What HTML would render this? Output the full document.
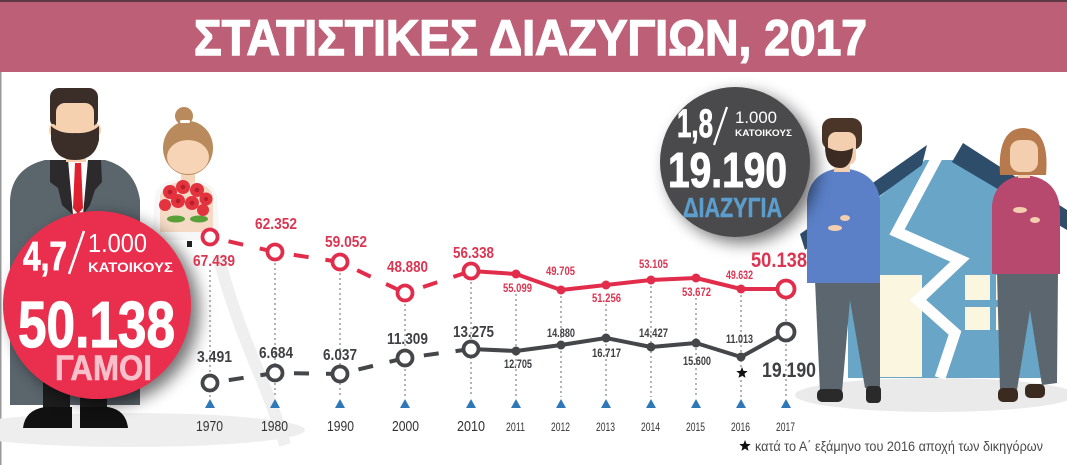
<!DOCTYPE html>
<html><head><meta charset="utf-8">
<style>
html,body{margin:0;padding:0;background:#fff;}
svg{display:block;}
</style></head>
<body>
<svg width="1067" height="465" viewBox="0 0 1067 465" xmlns="http://www.w3.org/2000/svg" font-family="'Liberation Sans','DejaVu Sans',sans-serif">
<defs>
<filter id="sh" x="-40%" y="-40%" width="180%" height="180%"><feGaussianBlur stdDeviation="8"/></filter>
</defs>
<rect width="1067" height="465" fill="#fff"/>

<!-- Title -->
<rect x="0" y="0" width="1067" height="72" fill="#bd5f77"/>
<rect x="0" y="0" width="1067" height="2" fill="#5e3a47"/>
<text x="194" y="55" font-size="50" font-weight="bold" fill="#fff" stroke="#fff" stroke-width="1.4" textLength="673" lengthAdjust="spacingAndGlyphs">ΣΤΑΤΙΣΤΙΚΕΣ ΔΙΑΖΥΓΙΩΝ, 2017</text>
<rect x="0" y="72" width="1.5" height="393" fill="#999"/>

<!-- Left ground & veil -->
<ellipse cx="130" cy="430" rx="175" ry="17" fill="#eeeeee"/>
<path d="M218,255 Q232,310 262,380 Q278,420 285,445" stroke="#efefef" stroke-width="12" fill="none"/>

<!-- Groom -->
<path d="M10,405 L10,200 Q12,168 45,160 L105,160 Q135,168 140,200 L140,405 Z" fill="#5a656c"/>
<polygon points="68,160 88,160 85,215 72,215" fill="#fff"/>
<polygon points="75,163 81,163 83,208 78,214 73,208" fill="#e0212f"/>
<polygon points="50,160 68,160 73,215 62,205 58,188 50,182" fill="#2d2a2d"/>
<polygon points="88,160 101,160 102,182 95,190 90,205 83,215" fill="#2d2a2d"/>
<rect x="66" y="145" width="20" height="17" fill="#f5cfae"/>
<rect x="50" y="88" width="48" height="40" rx="9" fill="#3b2e29"/>
<ellipse cx="53" cy="130" rx="4" ry="6" fill="#f5cfae"/>
<ellipse cx="97" cy="130" rx="4" ry="6" fill="#f5cfae"/>
<rect x="56" y="103" width="38" height="45" rx="9" fill="#f6d1b0"/>
<path d="M51,126 L51,140 Q55,160 75,160 Q95,160 99,140 L99,126 Q90,134 75,133 Q60,134 51,126 Z" fill="#3b2e29"/>
<rect x="43" y="370" width="27" height="42" fill="#1d1d1d"/>
<rect x="80" y="370" width="27" height="42" fill="#1d1d1d"/>
<path d="M23,428 Q25,410 45,407 L72,407 L72,428 Z" fill="#111"/>
<path d="M80,407 L108,407 Q126,410 128,428 L80,428 Z" fill="#111"/>

<!-- Bride -->
<path d="M152,240 L155,195 Q160,180 185,178 Q212,180 217,195 L220,240 Z" fill="#f7f7f7"/>
<path d="M160,232 L160,196 Q163,183 185,181 Q210,183 213,196 L213,232 Z" fill="#f5dac5"/>
<rect x="181" y="166" width="14" height="16" fill="#f5d4b8"/>
<ellipse cx="188" cy="148" rx="25" ry="27" fill="#b98a5c"/>
<circle cx="184" cy="116" r="9" fill="#b98a5c"/>
<rect x="180" y="120" width="10" height="3" rx="1.5" fill="#fff"/>
<ellipse cx="188" cy="157" rx="21" ry="17" fill="#f7d4b6"/>
<g fill="#e2333f">
<circle cx="170" cy="192" r="7"/><circle cx="183" cy="187" r="7"/><circle cx="197" cy="190" r="7"/>
<circle cx="206" cy="199" r="6.5"/><circle cx="178" cy="201" r="7"/><circle cx="192" cy="203" r="7"/>
<circle cx="165" cy="205" r="6"/><circle cx="203" cy="210" r="6"/>
</g>
<g fill="#b81e2a">
<circle cx="170" cy="192" r="2.3"/><circle cx="183" cy="187" r="2.3"/><circle cx="197" cy="190" r="2.3"/>
<circle cx="178" cy="201" r="2.3"/><circle cx="192" cy="203" r="2.3"/><circle cx="206" cy="199" r="2"/>
</g>
<ellipse cx="176" cy="219" rx="9" ry="3.5" fill="#5aa03a"/>
<ellipse cx="199" cy="219" rx="9" ry="3.5" fill="#5aa03a"/>
<rect x="187" y="241" width="5" height="6" fill="#222"/>

<!-- Red big circle -->
<circle cx="105" cy="311" r="94" fill="#000" opacity="0.55" filter="url(#sh)"/>
<circle cx="97" cy="305" r="94" fill="#e92f4d"/>
<text x="23" y="270" font-size="41" font-weight="bold" fill="#fff" stroke="#fff" stroke-width="0.8" textLength="44" lengthAdjust="spacingAndGlyphs">4,7</text>
<line x1="84" y1="231" x2="69" y2="274" stroke="#fff" stroke-width="2.5"/>
<text x="88" y="252" font-size="26" fill="#fff" textLength="59" lengthAdjust="spacingAndGlyphs">1.000</text>
<text x="88" y="272" font-size="14" font-weight="bold" fill="#fff" textLength="85" lengthAdjust="spacingAndGlyphs">ΚΑΤΟΙΚΟΥΣ</text>
<text x="18" y="347" font-size="65" font-weight="bold" fill="#fff" stroke="#fff" stroke-width="1.2" textLength="157" lengthAdjust="spacingAndGlyphs">50.138</text>
<text x="55" y="380" font-size="35" font-weight="bold" fill="#f8c0ca" stroke="#f8c0ca" stroke-width="0.6" textLength="97" lengthAdjust="spacingAndGlyphs">ΓΑΜΟΙ</text>

<!-- Right scene -->
<ellipse cx="935" cy="395" rx="140" ry="17" fill="#eaeaea"/>
<polygon points="848,222 925,160 955,160 1050,222 1050,378 848,378" fill="#68a5c6"/>
<rect x="880" y="275" width="42" height="102" fill="#fbf6df"/>
<rect x="965" y="275" width="25" height="25" fill="#fbf6df"/>
<rect x="965" y="307" width="25" height="23" fill="#fbf6df"/>
<rect x="996" y="275" width="12" height="25" fill="#fbf6df"/>
<rect x="996" y="307" width="12" height="23" fill="#fbf6df"/>
<polygon points="800,234 927,145 922,165 805,250" fill="#2d4d6b"/>
<polygon points="963,143 1067,210 1067,230 952,162" fill="#2d4d6b"/>
<polyline points="942,148 897,232 960,260 918,300 955,333 940,378" stroke="#fff" stroke-width="11" fill="none" stroke-linejoin="miter" stroke-miterlimit="3"/>

<!-- Man -->
<path d="M815,280 L880,280 L880,388 L865,388 L850,300 L842,392 L820,392 Z" fill="#5b666e"/>
<rect x="817" y="389" width="26" height="13" rx="5" fill="#2a2a2a"/>
<rect x="866" y="386" width="15" height="17" rx="4" fill="#2a2a2a"/>
<path d="M807,283 L807,200 Q810,172 840,168 Q876,170 880,200 L880,283 Z" fill="#5b80c8"/>
<ellipse cx="835" cy="228" rx="7" ry="3" fill="#f3cfb0"/>
<ellipse cx="845" cy="218" rx="5" ry="3" fill="#f3cfb0"/>
<rect x="834" y="158" width="16" height="14" fill="#f3cfb0"/>
<rect x="822" y="118" width="40" height="32" rx="10" fill="#4a3528"/>
<rect x="828" y="132" width="28" height="33" rx="8" fill="#f3cfb0"/>
<path d="M825,146 Q825,168 840,168 Q852,168 853,148 Q840,155 825,146 Z" fill="#3b2b22"/>

<!-- Woman -->
<path d="M997,272 L1058,272 L1057,383 L1042,385 L1030,310 L1017,390 L1000,390 Z" fill="#5b666e"/>
<rect x="998" y="388" width="20" height="14" rx="5" fill="#3b2a20"/>
<rect x="1025" y="384" width="20" height="14" rx="5" fill="#3b2a20"/>
<path d="M992,274 L992,205 Q995,178 1025,175 Q1058,178 1060,210 L1060,274 Z" fill="#b8496e"/>
<rect x="1018" y="163" width="12" height="15" fill="#f3cfb0"/>
<path d="M1000,175 Q997,128 1024,128 Q1050,130 1046,175 Z" fill="#b67a4c"/>
<rect x="1010" y="140" width="28" height="32" rx="10" fill="#f3cfb0"/>
<ellipse cx="1020" cy="210" rx="7" ry="3" fill="#f3cfb0"/>
<ellipse cx="1035" cy="220" rx="5" ry="3" fill="#f3cfb0"/>

<!-- Dark circle -->
<circle cx="742" cy="168" r="75" fill="#000" opacity="0.55" filter="url(#sh)"/>
<circle cx="735" cy="162" r="75" fill="#4a4a4c"/>
<text x="677" y="137" font-size="40" font-weight="bold" fill="#fff" stroke="#fff" stroke-width="0.8" textLength="36" lengthAdjust="spacingAndGlyphs">1,8</text>
<line x1="727" y1="107" x2="714" y2="145" stroke="#fff" stroke-width="2.2"/>
<text x="735" y="123" font-size="17" fill="#fff" textLength="42" lengthAdjust="spacingAndGlyphs">1.000</text>
<text x="735" y="136" font-size="9" font-weight="bold" fill="#fff" textLength="57" lengthAdjust="spacingAndGlyphs">ΚΑΤΟΙΚΟΥΣ</text>
<text x="668" y="187" font-size="49" font-weight="bold" fill="#fff" stroke="#fff" stroke-width="1" textLength="119" lengthAdjust="spacingAndGlyphs">19.190</text>
<text x="683" y="217" font-size="28" font-weight="bold" fill="#5b9dcc" stroke="#5b9dcc" stroke-width="0.5" textLength="99" lengthAdjust="spacingAndGlyphs">ΔΙΑΖΥΓΙΑ</text>

<!-- Chart: vertical dotted guides -->
<g stroke="#8a8a8a" stroke-width="1.3" stroke-dasharray="2 3">
<line x1="210" y1="270" x2="210" y2="397"/>
<line x1="275" y1="263" x2="275" y2="397"/>
<line x1="340" y1="273" x2="340" y2="397"/>
<line x1="405" y1="304" x2="405" y2="397"/>
<line x1="471" y1="282" x2="471" y2="397"/>
<line x1="516" y1="294" x2="516" y2="397"/>
<line x1="561" y1="296" x2="561" y2="397"/>
<line x1="606" y1="304" x2="606" y2="397"/>
<line x1="651" y1="286" x2="651" y2="397"/>
<line x1="696" y1="298" x2="696" y2="397"/>
<line x1="741" y1="295" x2="741" y2="397"/>
<line x1="786" y1="299" x2="786" y2="397"/>
</g>

<!-- Red series -->
<g stroke="#e12d4b" stroke-width="4" fill="none" stroke-dasharray="0 19 15 17 500">
<line x1="210" y1="237" x2="275" y2="252"/>
<line x1="275" y1="252" x2="340" y2="262"/>
<line x1="340" y1="262" x2="405" y2="293"/>
<line x1="405" y1="293" x2="471" y2="271"/>
</g>
<polyline points="471,271 516,274 561,290 606,285 651,280 696,278 741,289 786,289" stroke="#e12d4b" stroke-width="4" fill="none" stroke-linejoin="round"/>
<g fill="#fff" stroke="#e12d4b" stroke-width="3.8">
<circle cx="210" cy="237" r="7.5"/><circle cx="275" cy="252" r="7.5"/><circle cx="340" cy="262" r="7.5"/>
<circle cx="405" cy="293" r="7.5"/><circle cx="471" cy="271" r="7.5"/><circle cx="786" cy="289" r="8.5"/>
</g>
<g fill="#e12d4b">
<circle cx="516" cy="274" r="4.5"/><circle cx="561" cy="290" r="4.5"/><circle cx="606" cy="285" r="4.5"/>
<circle cx="651" cy="280" r="4.5"/><circle cx="696" cy="278" r="4.5"/><circle cx="741" cy="289" r="4.5"/>
</g>

<!-- Black series -->
<g stroke="#444649" stroke-width="4" fill="none" stroke-dasharray="0 19 15 17 500">
<line x1="210" y1="383" x2="275" y2="373"/>
<line x1="275" y1="373" x2="340" y2="374"/>
<line x1="340" y1="374" x2="405" y2="358"/>
<line x1="405" y1="358" x2="471" y2="349"/>
</g>
<polyline points="471,349 516,351 561,345 606,338 651,347 696,343 741,357 786,332" stroke="#444649" stroke-width="4" fill="none" stroke-linejoin="round"/>
<g fill="#fff" stroke="#444649" stroke-width="3.8">
<circle cx="210" cy="383" r="7.5"/><circle cx="275" cy="373" r="7.5"/><circle cx="340" cy="374" r="7.5"/>
<circle cx="405" cy="358" r="7.5"/><circle cx="471" cy="349" r="7.5"/><circle cx="786" cy="332" r="8.5"/>
</g>
<g fill="#444649">
<circle cx="516" cy="351" r="4.5"/><circle cx="561" cy="345" r="4.5"/><circle cx="606" cy="338" r="4.5"/>
<circle cx="651" cy="347" r="4.5"/><circle cx="696" cy="343" r="4.5"/><circle cx="741" cy="357" r="4.5"/>
</g>

<!-- Triangles -->
<g fill="#2f78b7">
<polygon points="210,399 215,408 205,408"/><polygon points="275,399 280,408 270,408"/>
<polygon points="340,399 345,408 335,408"/><polygon points="405,399 410,408 400,408"/>
<polygon points="471,399 476,408 466,408"/><polygon points="516,399 521,408 511,408"/>
<polygon points="561,399 566,408 556,408"/><polygon points="606,399 611,408 601,408"/>
<polygon points="651,399 656,408 646,408"/><polygon points="696,399 701,408 691,408"/>
<polygon points="741,399 746,408 736,408"/><polygon points="786,399 791,408 781,408"/>
</g>

<!-- Red labels -->
<g fill="#dc3552" font-weight="bold">
<text x="193" y="266" font-size="16" textLength="42" lengthAdjust="spacingAndGlyphs">67.439</text>
<text x="255" y="229" font-size="16" textLength="42" lengthAdjust="spacingAndGlyphs">62.352</text>
<text x="325" y="247" font-size="16" textLength="42" lengthAdjust="spacingAndGlyphs">59.052</text>
<text x="387" y="272" font-size="16" textLength="41" lengthAdjust="spacingAndGlyphs">48.880</text>
<text x="453" y="258" font-size="16" textLength="41" lengthAdjust="spacingAndGlyphs">56.338</text>
<text x="503" y="292" font-size="12" textLength="29" lengthAdjust="spacingAndGlyphs">55.099</text>
<text x="546" y="275" font-size="12" textLength="29" lengthAdjust="spacingAndGlyphs">49.705</text>
<text x="592" y="302" font-size="12" textLength="29" lengthAdjust="spacingAndGlyphs">51.256</text>
<text x="639" y="268" font-size="12" textLength="29" lengthAdjust="spacingAndGlyphs">53.105</text>
<text x="682" y="296" font-size="12" textLength="29" lengthAdjust="spacingAndGlyphs">53.672</text>
<text x="726" y="279" font-size="12" textLength="27" lengthAdjust="spacingAndGlyphs">49.632</text>
<text x="751" y="267" font-size="21" textLength="56" lengthAdjust="spacingAndGlyphs">50.138</text>
</g>

<!-- Black labels -->
<g fill="#3f4043" font-weight="bold">
<text x="197" y="362" font-size="16" textLength="35" lengthAdjust="spacingAndGlyphs">3.491</text>
<text x="259" y="358" font-size="16" textLength="34" lengthAdjust="spacingAndGlyphs">6.684</text>
<text x="323" y="360" font-size="16" textLength="34" lengthAdjust="spacingAndGlyphs">6.037</text>
<text x="387" y="344" font-size="16" textLength="41" lengthAdjust="spacingAndGlyphs">11.309</text>
<text x="453" y="337" font-size="16" textLength="41" lengthAdjust="spacingAndGlyphs">13.275</text>
<text x="504" y="368" font-size="12" textLength="28" lengthAdjust="spacingAndGlyphs">12.705</text>
<text x="547" y="337" font-size="12" textLength="28" lengthAdjust="spacingAndGlyphs">14.880</text>
<text x="592" y="357" font-size="12" textLength="29" lengthAdjust="spacingAndGlyphs">16.717</text>
<text x="639" y="337" font-size="12" textLength="29" lengthAdjust="spacingAndGlyphs">14.427</text>
<text x="683" y="365" font-size="12" textLength="28" lengthAdjust="spacingAndGlyphs">15.600</text>
<text x="726" y="343" font-size="12" textLength="27" lengthAdjust="spacingAndGlyphs">11.013</text>
<text x="762" y="377" font-size="21" textLength="54" lengthAdjust="spacingAndGlyphs">19.190</text>
</g>
<polygon transform="translate(742,373)" points="0,-6 1.53,-2.1 5.71,-1.85 2.47,0.8 3.53,4.85 0,2.6 -3.53,4.85 -2.47,0.8 -5.71,-1.85 -1.53,-2.1" fill="#111"/>

<!-- Year labels -->
<g fill="#333">
<text x="196" y="431" font-size="15" textLength="27" lengthAdjust="spacingAndGlyphs">1970</text>
<text x="261" y="431" font-size="15" textLength="27" lengthAdjust="spacingAndGlyphs">1980</text>
<text x="327" y="431" font-size="15" textLength="27" lengthAdjust="spacingAndGlyphs">1990</text>
<text x="392" y="431" font-size="15" textLength="27" lengthAdjust="spacingAndGlyphs">2000</text>
<text x="457" y="431" font-size="15" textLength="28" lengthAdjust="spacingAndGlyphs">2010</text>
<text x="506" y="431" font-size="12" textLength="19" lengthAdjust="spacingAndGlyphs">2011</text>
<text x="551" y="431" font-size="12" textLength="19" lengthAdjust="spacingAndGlyphs">2012</text>
<text x="596" y="431" font-size="12" textLength="19" lengthAdjust="spacingAndGlyphs">2013</text>
<text x="641" y="431" font-size="12" textLength="19" lengthAdjust="spacingAndGlyphs">2014</text>
<text x="686" y="431" font-size="12" textLength="19" lengthAdjust="spacingAndGlyphs">2015</text>
<text x="731" y="431" font-size="12" textLength="19" lengthAdjust="spacingAndGlyphs">2016</text>
<text x="776" y="431" font-size="12" textLength="19" lengthAdjust="spacingAndGlyphs">2017</text>
</g>

<!-- Footnote -->
<polygon transform="translate(745,446)" points="0,-6 1.53,-2.1 5.71,-1.85 2.47,0.8 3.53,4.85 0,2.6 -3.53,4.85 -2.47,0.8 -5.71,-1.85 -1.53,-2.1" fill="#111"/>
<text x="755" y="451" font-size="13.5" fill="#4a4a4a" textLength="288" lengthAdjust="spacingAndGlyphs">κατά το Α΄ εξάμηνο του 2016 αποχή των δικηγόρων</text>
</svg>
</body></html>
